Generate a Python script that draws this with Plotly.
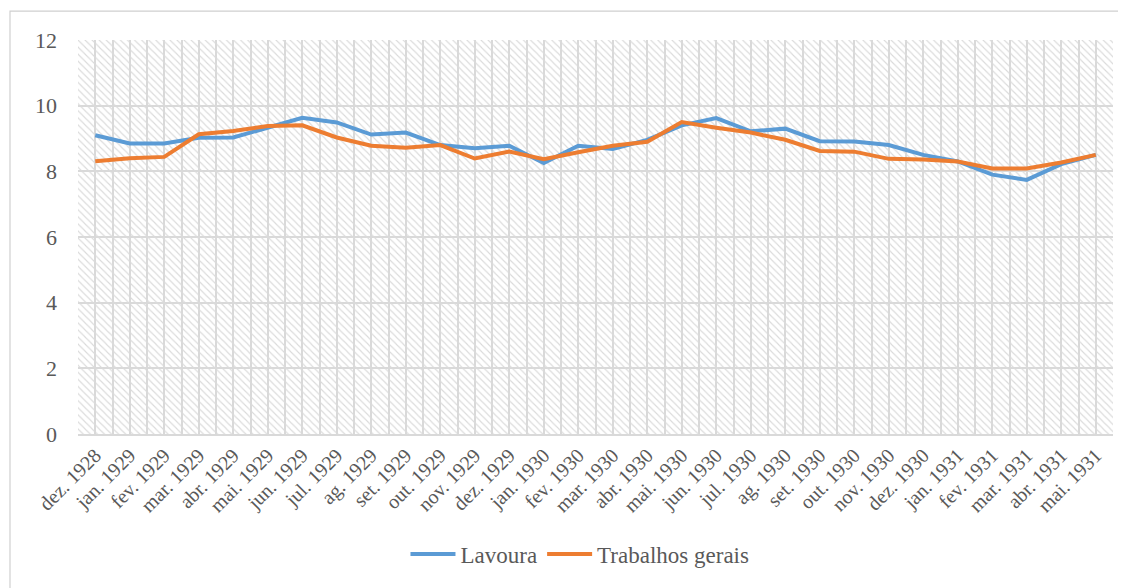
import plotly.graph_objects as go

categories = ["dez. 1928", "jan. 1929", "fev. 1929", "mar. 1929", "abr. 1929", "mai. 1929",
              "jun. 1929", "jul. 1929", "ag. 1929", "set. 1929", "out. 1929", "nov. 1929",
              "dez. 1929", "jan. 1930", "fev. 1930", "mar. 1930", "abr. 1930", "mai. 1930",
              "jun. 1930", "jul. 1930", "ag. 1930", "set. 1930", "out. 1930", "nov. 1930",
              "dez. 1930", "jan. 1931", "fev. 1931", "mar. 1931", "abr. 1931", "mai. 1931"]

lavoura = [9.10, 8.85, 8.85, 9.02, 9.03, 9.33, 9.63, 9.49, 9.12, 9.18, 8.80, 8.70,
           8.78, 8.25, 8.78, 8.68, 8.96, 9.40, 9.62, 9.22, 9.30, 8.92, 8.91, 8.80,
           8.50, 8.30, 7.90, 7.74, 8.22, 8.50]

trabalhos = [8.31, 8.40, 8.44, 9.13, 9.23, 9.38, 9.40, 9.03, 8.78, 8.72, 8.80, 8.39,
             8.60, 8.37, 8.58, 8.78, 8.90, 9.50, 9.33, 9.18, 8.96, 8.62, 8.60, 8.38,
             8.36, 8.30, 8.09, 8.09, 8.27, 8.50]

y_ticks = [0, 2, 4, 6, 8, 10, 12]
y_max = 12

idx = list(range(len(categories)))
font_family = "Liberation Serif"
text_color = "#595959"
grid_color = "#d9d9d9"

fig = go.Figure()

# hatched plot-area background
fig.add_trace(go.Bar(
    x=idx, y=[y_max] * len(idx), width=1,
    marker=dict(color="rgba(0,0,0,0)", line=dict(width=0),
                pattern=dict(shape="\\", fgcolor="#dadada", size=5, solidity=0.22,
                             fillmode="replace")),
    showlegend=False, hoverinfo="skip"))

fig.add_trace(go.Scatter(x=idx, y=lavoura, mode="lines", name="Lavoura",
                         line=dict(color="#5B9BD5", width=4)))
fig.add_trace(go.Scatter(x=idx, y=trabalhos, mode="lines", name="Trabalhos gerais",
                         line=dict(color="#ED7D31", width=4)))

# page body has an 8px default margin, so the figure is 8px smaller each way
fig.update_layout(
    width=1118, height=580,
    margin=dict(l=70, r=13, t=32, b=143),
    paper_bgcolor="white", plot_bgcolor="white",
    font=dict(family=font_family, color=text_color, size=18),
    bargap=0,
    showlegend=True,
    legend=dict(orientation="h", x=0.485, xanchor="center", y=-0.305, yanchor="middle",
                font=dict(size=23, family=font_family, color=text_color),
                itemwidth=45, tracegroupgap=0),
    xaxis=dict(range=[-0.5, len(idx) - 0.5], tickmode="array", tickvals=idx,
               ticktext=categories, tickangle=-45,
               tickfont=dict(size=20, family=font_family, color=text_color),
               showgrid=True, gridcolor=grid_color, gridwidth=1.5,
               minor=dict(tickmode="linear", tick0=-0.5, dtick=1, showgrid=True,
                          gridcolor=grid_color, gridwidth=1.5),
               showline=True, linecolor=grid_color, linewidth=1.5,
               zeroline=False, ticks=""),
    yaxis=dict(range=[0, y_max], tickmode="array", tickvals=y_ticks,
               tickfont=dict(size=22, family=font_family, color=text_color),
               showgrid=True, gridcolor=grid_color, gridwidth=1.5,
               zeroline=False, showline=False, ticks="", ticklabelstandoff=20),
    shapes=[dict(type="rect", xref="paper", yref="paper",
                 x0=(10 - 78) / 1035, x1=(1135 - 78) / 1035,
                 y0=(437 - 600) / 397, y1=(437 - 11) / 397,
                 line=dict(color="#d0d0d0", width=1.2), layer="below")],
)

fig.write_html("out.html")
